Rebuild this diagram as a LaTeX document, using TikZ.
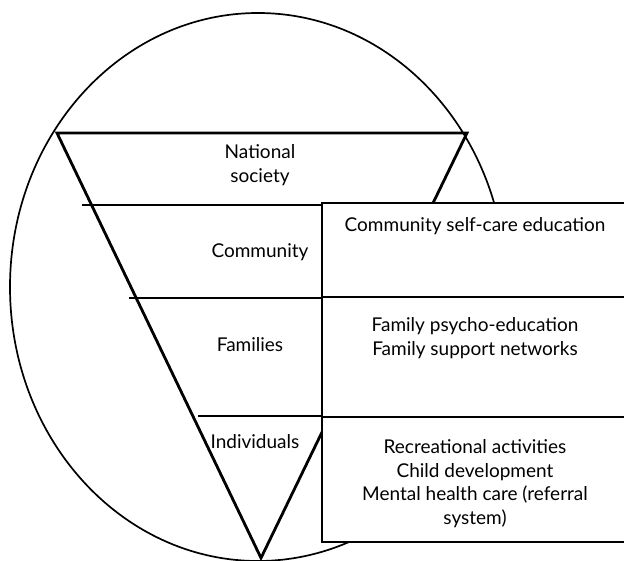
\documentclass[tikz,border=0pt]{standalone}
\usepackage{fontspec}
\setmainfont{Lato}
\begin{document}
\begin{tikzpicture}[x=1pt,y=-1pt,
  outline/.style={line width=1.7pt},
  wedge/.style={line width=2.8pt, line join=miter},
  rule/.style={line width=2pt},
  panel/.style={line width=2pt, fill=white},
  lbl/.style={align=center, inner sep=0pt, font=\fontsize{19}{23.5}\selectfont}]
\useasboundingbox (0,0) rectangle (624,560);
\clip (0,0) rectangle (624,560);

% outer oval
\draw[outline] (258,287) ellipse [x radius=248pt, y radius=274pt];

% inverted triangle with its level rules
\coordinate (tl) at (57,133);
\coordinate (tr) at (467,133);
\coordinate (apex) at (261,558);
\draw[wedge] (tr) -- (tl) -- (apex) -- cycle;
\draw[rule] (82,205) -- (322,205);
\draw[rule] (129,298) -- (322,298);
\draw[rule] (198,416) -- (322,416);

% intervention panel on the right
\draw[panel] (322,203) rectangle (640,542);
\draw[rule] (322,297) -- (640,297);
\draw[rule] (322,417) -- (640,417);

% level labels
\node[lbl] (national) at (260,165) {National\\society};
\node[lbl] (community) at (260,252) {Community};
\node[lbl] (families) at (250,345) {Families};
\node[lbl] (individuals) at (255,442) {Individuals};

% intervention labels
\node[lbl] (selfcare) at (475,226) {Community self-care education};
\node[lbl] (family) at (475,338) {Family psycho-education\\Family support networks};
\node[lbl] (indiv) at (475,483.5) {Recreational activities\\Child development\\Mental health care (referral\\system)};
\end{tikzpicture}
\end{document}
